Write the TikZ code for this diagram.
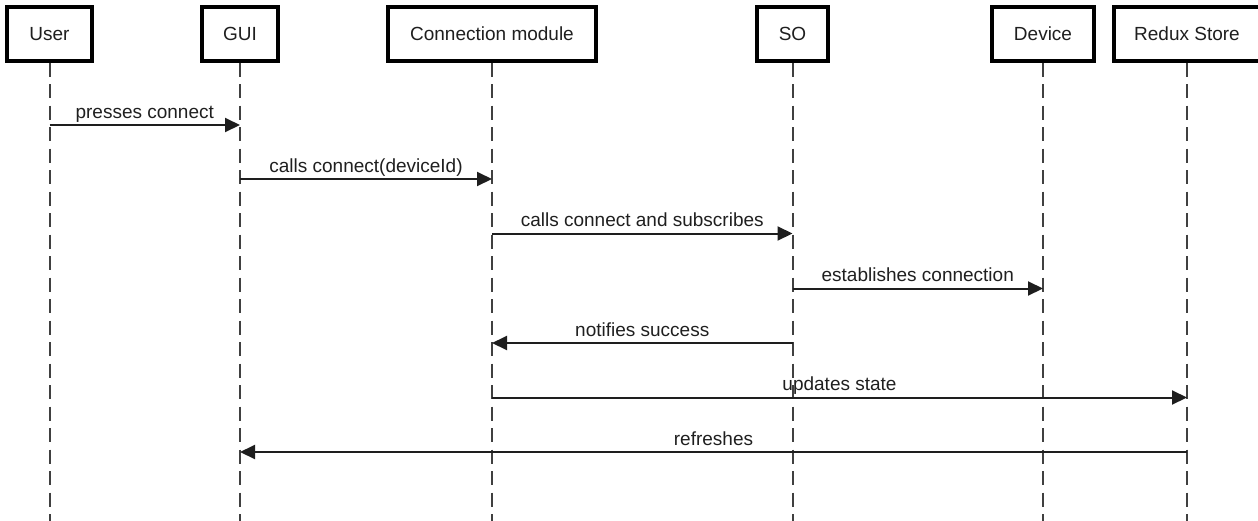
\documentclass[tikz,border=0pt]{standalone}
\usepackage{fontspec}
\setmainfont{Liberation Sans}
\usetikzlibrary{arrows.meta,calc}

\definecolor{lifegray}{HTML}{404040}
\definecolor{msgcol}{HTML}{1E1E1E}

\tikzset{
  actor/.style={draw=black, line width=3.4pt, fill=white, minimum height=54pt,
    inner sep=0pt, font=\fontsize{19}{22}\selectfont, text=black!88},
  lifeline/.style={draw=lifegray, line width=2pt, dash pattern=on 14pt off 7.5pt},
  msg/.style={draw=msgcol, line width=2pt, -{Triangle[length=15pt,width=14pt]}},
  msglabel/.style={midway, anchor=base, yshift=7pt, inner sep=0pt,
    font=\fontsize{19}{22}\selectfont, text=black!88}
}

\begin{document}
\begin{tikzpicture}[x=1pt,y=-1pt]
  \useasboundingbox (0,0) rectangle (1258,520);
  \clip (0,0) rectangle (1258,520);

  % participants
  \node[actor, minimum width=85pt]  (user)   at (49.5,34)  {User};
  \node[actor, minimum width=76pt]  (gui)    at (240,34)   {GUI};
  \node[actor, minimum width=208pt] (conn)   at (492,34)   {Connection module};
  \node[actor, minimum width=71pt]  (so)     at (792.5,34) {SO};
  \node[actor, minimum width=102pt] (device) at (1043,34)  {Device};
  \node[actor, minimum width=146pt] (redux)  at (1187,34)  {Redux Store};

  % lifelines
  \coordinate (bottom) at (0,522);
  \foreach \p in {user,gui,conn,so,device,redux}
    \draw[lifeline] (\p.south) -- (\p.south |- bottom);

  % message rows
  \coordinate (r1) at (0,125);
  \coordinate (r2) at (0,179);
  \coordinate (r3) at (0,233.5);
  \coordinate (r4) at (0,288.5);
  \coordinate (r5) at (0,343);
  \coordinate (r6) at (0,397.5);
  \coordinate (r7) at (0,452);

  % messages
  \draw[msg] (user |- r1) -- (gui |- r1)    node[msglabel] {presses connect};
  \draw[msg] (gui |- r2)  -- (conn |- r2)   node[msglabel] {calls connect(deviceId)};
  \draw[msg] (conn |- r3) -- (so |- r3)     node[msglabel] {calls connect and subscribes};
  \draw[msg] (so |- r4)   -- (device |- r4) node[msglabel] {establishes connection};
  \draw[msg] (so |- r5)   -- (conn |- r5)   node[msglabel] {notifies success};
  \draw[msg] (conn |- r6) -- (redux |- r6)  node[msglabel] {updates state};
  \draw[msg] (redux |- r7) -- (gui |- r7)   node[msglabel] {refreshes};
\end{tikzpicture}
\end{document}
